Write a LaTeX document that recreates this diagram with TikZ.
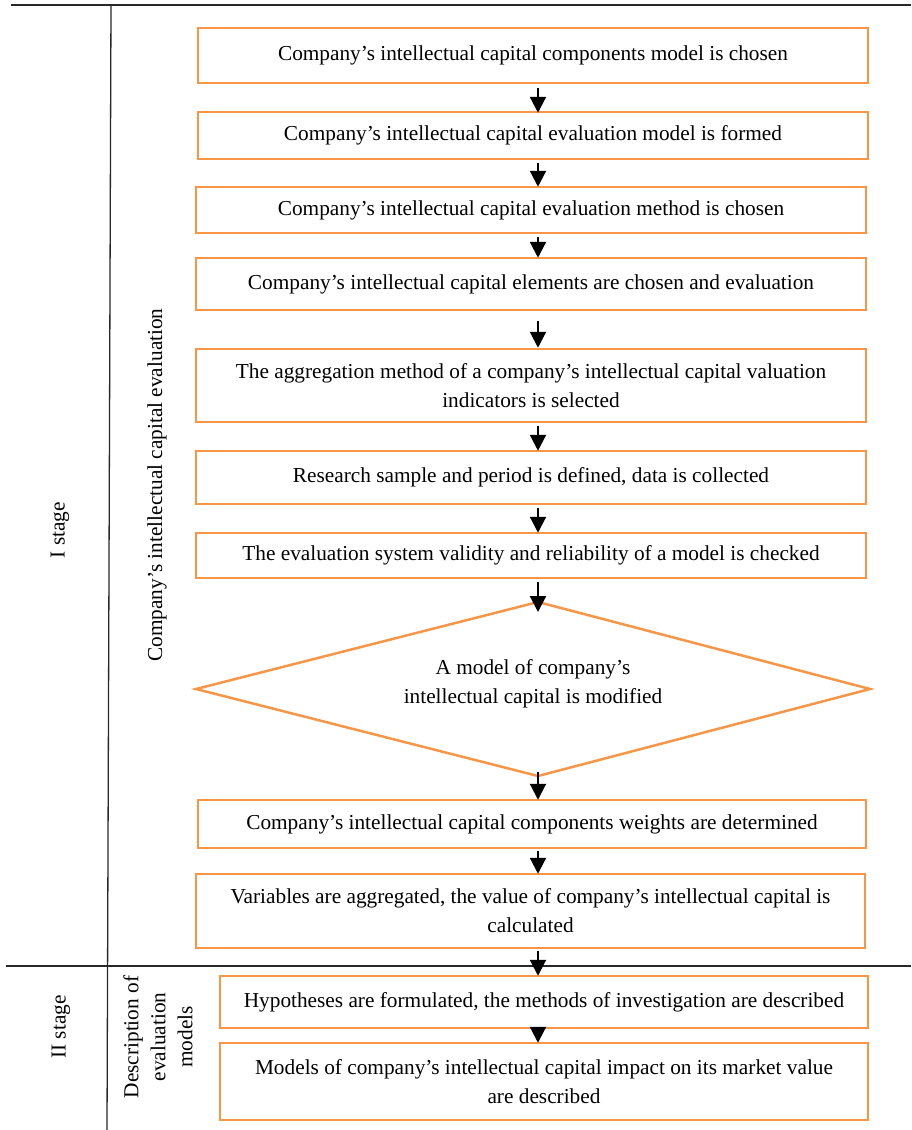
\documentclass[tikz,border=0pt]{standalone}
\usepackage{fontspec}
\setmainfont{Liberation Serif}
\usetikzlibrary{arrows.meta}
\definecolor{boxorange}{RGB}{247,150,70}
\definecolor{rulegray}{RGB}{40,40,40}
\begin{document}
\begin{tikzpicture}[x=1pt,y=-1pt,
  txt/.style={font=\fontsize{21.3}{29}\selectfont, align=center, inner sep=0pt},
  stepbox/.style={txt, draw=boxorange, line width=2.5pt},
  rule/.style={draw=rulegray, line width=1.3pt},
  arr/.style={draw=black, line width=2.2pt, -{Triangle[length=16pt,width=16pt]}},
  sidelabel/.style={txt, rotate=90}
]
\useasboundingbox (0,0) rectangle (911,1130);

% frame lines
\coordinate (tl) at (11,5);
\coordinate (tr) at (911,5);
\coordinate (vt) at (111,5);
\coordinate (vb) at (107,1130);
\coordinate (ml) at (6,966);
\coordinate (mr) at (911,966);
\draw[rule] (tl) -- (tr);
\draw[rule] (vt) -- (vb);
\draw[rule] (ml) -- (mr);

% side labels
\node[sidelabel] (stage1) at (60,530) {I stage};
\node[sidelabel] (eval) at (157,485) {Company’s intellectual capital evaluation};
\node[sidelabel] (stage2) at (61,1027) {II stage};
\node[sidelabel, font=\fontsize{21.3}{27}\selectfont] (desc) at (158,1037) {Description of\\evaluation\\models};

% boxes
\node[stepbox, minimum width=670, minimum height=55] (b1) at (533,55.5) {Company’s intellectual capital components model is chosen};
\node[stepbox, minimum width=670, minimum height=47] (b2) at (533,135.5) {Company’s intellectual capital evaluation model is formed};
\node[stepbox, minimum width=670, minimum height=46] (b3) at (531,210) {Company’s intellectual capital evaluation method is chosen};
\node[stepbox, minimum width=670, minimum height=52] (b4) at (531,284) {Company’s intellectual capital elements are chosen and evaluation};
\node[stepbox, minimum width=670, minimum height=73] (b5) at (531,385.5) {The aggregation method of a company’s intellectual capital valuation\\indicators is selected};
\node[stepbox, minimum width=670, minimum height=53] (b6) at (531,477.5) {Research sample and period is defined, data is collected};
\node[stepbox, minimum width=670, minimum height=45] (b7) at (531,555.5) {The evaluation system validity and reliability of a model is checked};

% diamond
\coordinate (dleft) at (196,689);
\coordinate (dright) at (870,689);
\coordinate (dtop) at (538,602);
\coordinate (dbot) at (538,776);
\draw[draw=boxorange, line width=2.5pt, line join=miter] (dleft) -- (dtop) -- (dright) -- (dbot) -- cycle;
\node[txt] (dtext) at (533,684) {A model of company’s\\intellectual capital is modified};

\node[stepbox, minimum width=668, minimum height=48] (b8) at (532,824) {Company’s intellectual capital components weights are determined};
\node[stepbox, minimum width=669, minimum height=74] (b9) at (530.5,911) {Variables are aggregated, the value of company’s intellectual capital is\\calculated};
\node[stepbox, minimum width=648, minimum height=52] (b10) at (544,1002) {Hypotheses are formulated, the methods of investigation are described};
\node[stepbox, minimum width=648, minimum height=77] (b11) at (544,1081.5) {Models of company’s intellectual capital impact on its market value\\are described};

% arrows
\coordinate (ax) at (538,0);
\draw[arr, shorten <=4pt, shorten >=-2pt] (b1.south -| ax) -- (b2.north -| ax);
\draw[arr, shorten <=3pt, shorten >=-1pt] (b2.south -| ax) -- (b3.north -| ax);
\draw[arr, shorten <=3pt, shorten >=-1pt] (b3.south -| ax) -- (b4.north -| ax);
\draw[arr, shorten <=10pt, shorten >=0pt] (b4.south -| ax) -- (b5.north -| ax);
\draw[arr, shorten <=3pt, shorten >=-1pt] (b5.south -| ax) -- (b6.north -| ax);
\draw[arr, shorten <=3pt, shorten >=-1pt] (b6.south -| ax) -- (b7.north -| ax);
\draw[arr, shorten <=3pt, shorten >=-10pt] (b7.south -| ax) -- (dtop);
\draw[arr, shorten <=-4pt, shorten >=-1pt] (dbot) -- (b8.north -| ax);
\draw[arr, shorten <=2pt, shorten >=-1pt] (b8.south -| ax) -- (b9.north -| ax);
\draw[arr, shorten <=2pt, shorten >=-1pt] (b9.south -| ax) -- (b10.north -| ax);
\draw[arr, shorten <=-10pt, shorten >=-1pt] (b10.south -| ax) -- (b11.north -| ax);
\end{tikzpicture}
\end{document}
